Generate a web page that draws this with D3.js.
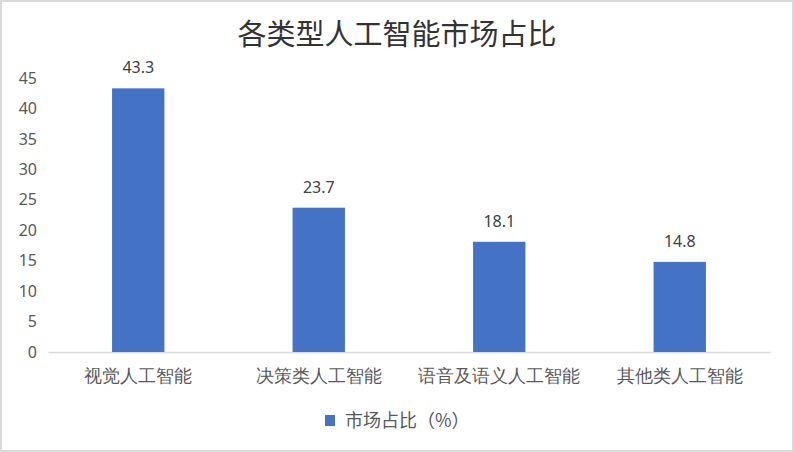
<!DOCTYPE html>
<html>
<head>
<meta charset="utf-8">
<script src="https://cdn.jsdelivr.net/npm/d3@7"></script>
<style>
  body { margin: 0; background: #fff; }
  svg { display: block; font-family: "Noto Sans CJK SC", "Noto Sans", sans-serif; }
</style>
</head>
<body>
<script>
// chart data
var categories = ["视觉人工智能", "决策类人工智能", "语音及语义人工智能", "其他类人工智能"];
var shares = [43.3, 23.7, 18.1, 14.8];
var yTicks = [0, 5, 10, 15, 20, 25, 30, 35, 40, 45];
var seriesName = "市场占比（%）";
var title = "各类型人工智能市场占比";

var w = 794;
var h = 452;
var margin = {top: 78, right: 24, bottom: 100, left: 48};

var svg = d3.select("body")
  .append("svg")
  .attr("width", w)
  .attr("height", h);

// outer border
svg.append("rect")
  .attr("x", 1).attr("y", 1)
  .attr("width", w - 2).attr("height", h - 2)
  .attr("fill", "#fff")
  .attr("stroke", "#d9d9d9")
  .attr("stroke-width", 2);

var x = d3.scaleBand()
  .domain(categories)
  .range([margin.left, w - margin.right])
  .paddingInner(0.71)
  .paddingOuter(0.355);

var y = d3.scaleLinear()
  .domain([0, 45])
  .range([h - margin.bottom, margin.top]);

// title
svg.append("text")
  .attr("x", w / 2)
  .attr("y", 45)
  .attr("text-anchor", "middle")
  .attr("font-size", 29)
  .attr("fill", "#333")
  .text(title);

// y axis (labels only)
var yAxis = svg.append("g")
  .attr("transform", "translate(" + margin.left + ",0)")
  .call(d3.axisLeft(y).tickValues(yTicks).tickSize(0).tickPadding(11));
yAxis.select(".domain").remove();
yAxis.selectAll("text")
  .attr("font-size", 16)
  .attr("fill", "#595959")
  .style("font-family", "Noto Sans, sans-serif");

// x axis baseline + labels
var xAxis = svg.append("g")
  .attr("transform", "translate(0," + y(0) + ")")
  .call(d3.axisBottom(x).tickSize(0).tickPadding(17));
xAxis.select(".domain").attr("stroke", "#d9d9d9").attr("stroke-width", 1.5);
xAxis.selectAll("text")
  .attr("font-size", 18)
  .attr("fill", "#595959");

// bars
svg.selectAll("rect.bar")
  .data(shares)
  .enter()
  .append("rect")
  .attr("class", "bar")
  .attr("x", function(d, i) { return x(categories[i]); })
  .attr("y", function(d) { return y(d); })
  .attr("width", x.bandwidth())
  .attr("height", function(d) { return y(0) - y(d); })
  .attr("fill", "#4472c4");

// value labels
svg.selectAll("text.val")
  .data(shares)
  .enter()
  .append("text")
  .attr("class", "val")
  .attr("x", function(d, i) { return x(categories[i]) + x.bandwidth() / 2; })
  .attr("y", function(d) { return y(d) - 15; })
  .attr("text-anchor", "middle")
  .attr("font-size", 16)
  .attr("fill", "#404040")
  .style("font-family", "Noto Sans, sans-serif")
  .text(function(d) { return d.toFixed(1); });

// legend
var legend = svg.append("g").attr("transform", "translate(325,415)");
legend.append("rect")
  .attr("width", 10).attr("height", 11)
  .attr("fill", "#4472c4");
legend.append("text")
  .attr("x", 20).attr("y", 12)
  .attr("font-size", 18)
  .attr("fill", "#595959")
  .text(seriesName);
</script>
</body>
</html>
